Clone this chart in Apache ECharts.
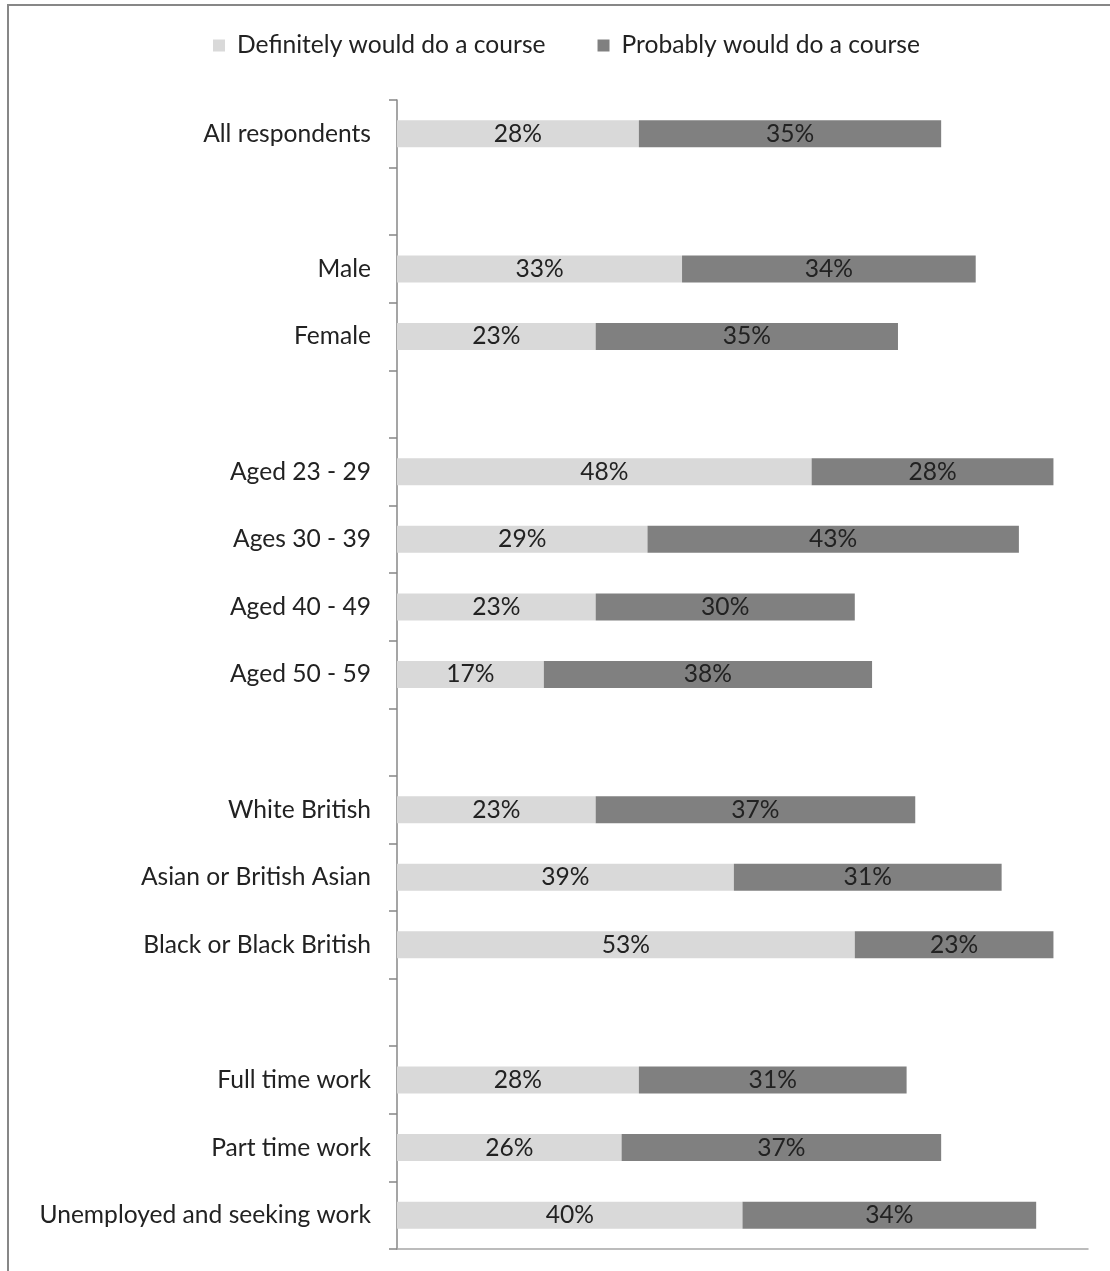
<!DOCTYPE html>
<html>
<head>
<meta charset="utf-8">
<script src="https://cdn.jsdelivr.net/npm/echarts@6/dist/echarts.min.js"></script>
<style>html,body{margin:0;padding:0;background:#fff}#c{width:1110px;height:1271px}</style>
</head>
<body>
<div id="c"></div>
<script>
const categories = ['All respondents', ' ', 'Male', 'Female', '  ', 'Aged 23 - 29', 'Ages 30 - 39', 'Aged 40 - 49', 'Aged 50 - 59', '   ', 'White British', 'Asian or British Asian', 'Black or Black British', '    ', 'Full time work', 'Part time work', 'Unemployed and seeking work'];
const seriesNames = ['Definitely would do a course', 'Probably would do a course'];
const definitely = [28, null, 33, 23, null, 48, 29, 23, 17, null, 23, 39, 53, null, 28, 26, 40];
const probably = [35, null, 34, 35, null, 28, 43, 30, 38, null, 37, 31, 23, null, 31, 37, 34];

const FONT = 'Lato';
const FS = 24.6;
const chart = echarts.init(document.getElementById('c'), null, {renderer: 'canvas'});
const labelCfg = {show: true, position: 'inside', formatter: p => p.value == null ? '' : p.value + '%', color: '#222', fontSize: FS, fontFamily: FONT};
chart.setOption({
  animation: false,
  textStyle: {fontFamily: FONT},
  graphic: [{type: 'rect', shape: {x: 8, y: 5, width: 1120, height: 1290}, style: {fill: 'none', stroke: '#878787', lineWidth: 2}, silent: true}],
  legend: {
    left: 213, top: 33, padding: 0, itemWidth: 12, itemHeight: 12, itemGap: 52, icon: 'rect',
    textStyle: {color: '#222', fontSize: FS, fontFamily: FONT, padding: [0, 0, 0, 7]},
    data: seriesNames
  },
  grid: {left: 397, right: 22, top: 100, bottom: 22, containLabel: false},
  xAxis: {
    type: 'value', min: 0, max: 80,
    splitLine: {show: false}, axisLabel: {show: false}, axisTick: {show: false},
    axisLine: {show: true, lineStyle: {color: '#a6a6a6', width: 1.5}}
  },
  yAxis: {
    type: 'category', inverse: true, data: categories,
    axisLine: {show: true, lineStyle: {color: '#878787', width: 1.5}},
    axisTick: {show: true, length: 8, lineStyle: {color: '#878787', width: 1.5}},
    axisLabel: {color: '#222', fontSize: FS, fontFamily: FONT, margin: 26}
  },
  series: [
    {name: seriesNames[0], type: 'bar', stack: 's', data: definitely, barWidth: 27, itemStyle: {color: '#d9d9d9'}, label: labelCfg},
    {name: seriesNames[1], type: 'bar', stack: 's', data: probably, barWidth: 27, itemStyle: {color: '#808080'}, label: labelCfg}
  ]
});
</script>
</body>
</html>
